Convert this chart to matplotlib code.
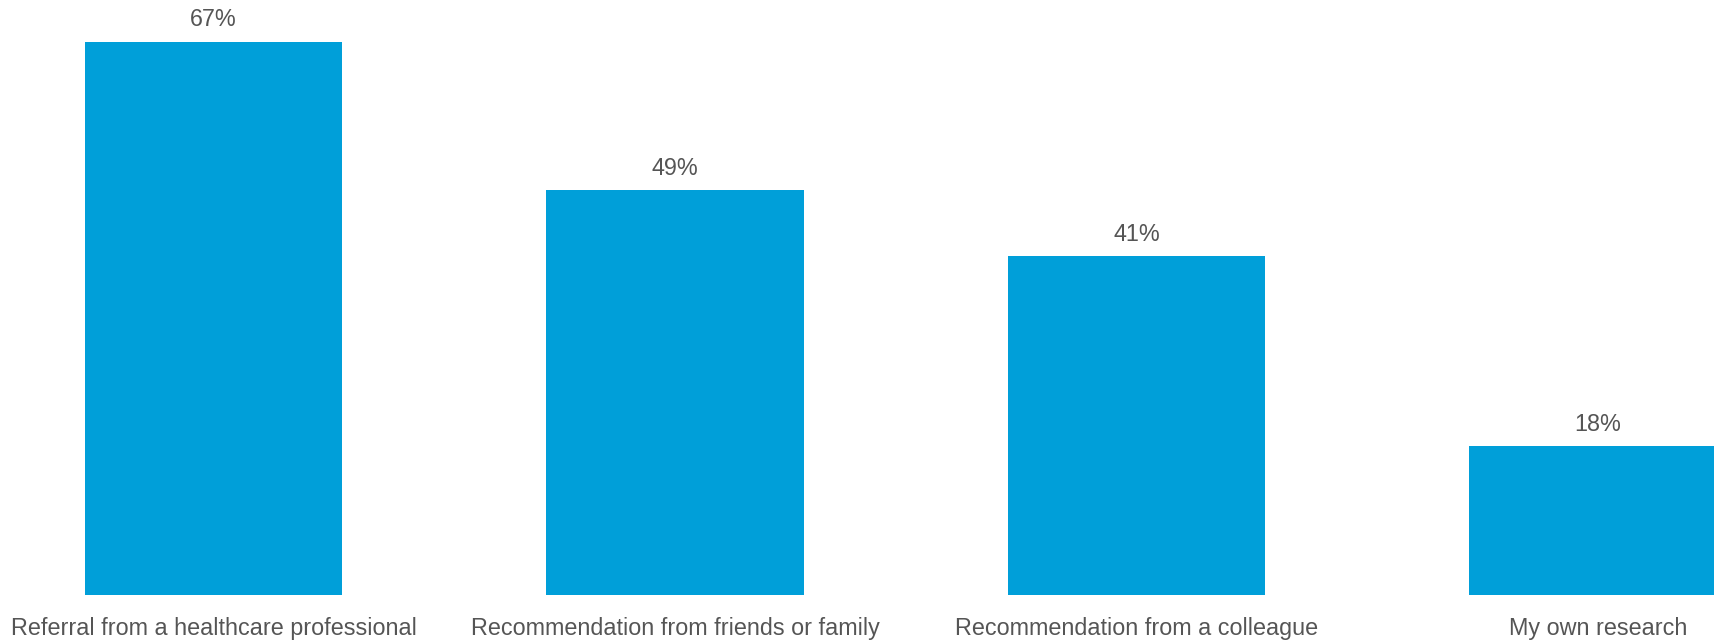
import matplotlib
matplotlib.use("Agg")
from matplotlib import pyplot as plt

sources = [
    "Referral from a healthcare professional",
    "Recommendation from friends or family",
    "Recommendation from a colleague",
    "My own research",
]
shares = [67, 49, 41, 18]

plt.rcParams["font.family"] = ["Liberation Sans", "DejaVu Sans"]

fig = plt.figure(figsize=(17.15, 6.41), dpi=100)
ax = fig.add_axes([0, 46 / 641, 1, 595 / 641])

pos = list(range(len(shares)))
bars = ax.bar(pos, shares, width=0.557, color="#009FD9")

# percentage above each bar
for b, v in zip(bars, shares):
    ax.annotate(f"{v}%", (b.get_x() + b.get_width() / 2, v),
                xytext=(0, 7.5), textcoords="offset points",
                ha="center", va="bottom", fontsize=16.8, color="#555555")

ax.set_xlim(-0.4626, 3.2535)
ax.set_ylim(0, 72.05)
ax.set_xticks(pos)
ax.set_xticklabels(sources, fontsize=16.8, color="#555555")
ax.tick_params(axis="x", length=0, pad=16)
ax.set_yticks([])
for s in ax.spines.values():
    s.set_visible(False)

fig.savefig("out.png", dpi=100)
